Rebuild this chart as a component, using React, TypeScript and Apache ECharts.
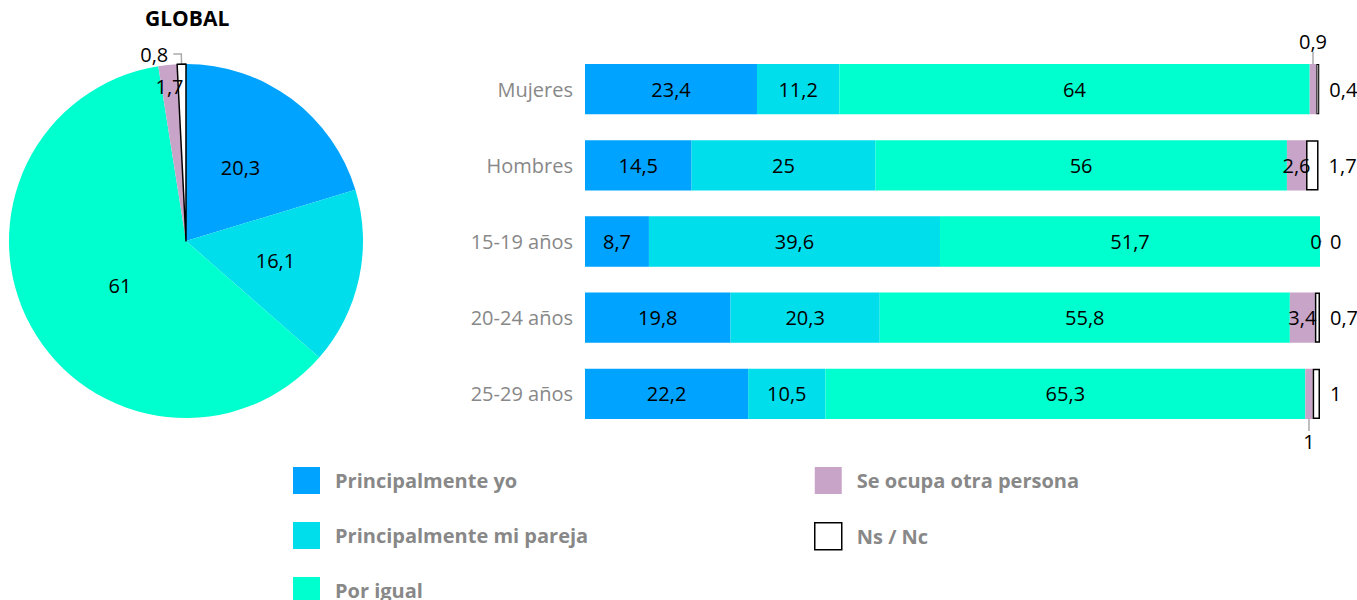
import React, { useEffect, useRef } from "react";
import * as echarts from "echarts";

const categories = ["Mujeres", "Hombres", "15-19 años", "20-24 años", "25-29 años"];
const seriesNames = ["Principalmente yo", "Principalmente mi pareja", "Por igual", "Se ocupa otra persona", "Ns / Nc"];
const yo = [23.4, 14.5, 8.7, 19.8, 22.2];
const pareja = [11.2, 25, 39.6, 20.3, 10.5];
const igual = [64, 56, 51.7, 55.8, 65.3];
const otra = [0.9, 2.6, 0, 3.4, 1];
const nsnc = [0.4, 1.7, 0, 0.7, 1];
const globalValues = [20.3, 16.1, 61, 1.7, 0.8];

const colors = ["#00A3FF", "#00DDEB", "#00FFCE", "#C8A4C8", "#FFFFFF"];
const FONT = "Open Sans";

const fmt = (p: any) => String(p.value).replace(".", ",");

export default function App() {
  const ref = useRef<HTMLDivElement>(null);
  useEffect(() => {
    document.body.style.margin = "0";
    const chart = echarts.init(ref.current!, null, { renderer: "svg" });
    const labelBase = { show: true, color: "#000", fontSize: 20, fontFamily: FONT, formatter: fmt };
    const nsStyle = { color: "#fff", borderColor: "#000", borderWidth: 1.5 };
    const barSeries: any[] = [yo, pareja, igual, otra, nsnc].map((vals, i) => {
      const s: any = {
        name: seriesNames[i],
        type: "bar",
        stack: "t",
        barCategoryGap: "34%",
        data: vals,
        itemStyle: { color: colors[i] },
        label: { ...labelBase, position: "inside" },
      };
      if (i === 4) {
        s.itemStyle = nsStyle;
        s.label = { ...labelBase, position: "right", distance: 10 };
        s.data = vals.map((v) =>
          v === 0 ? { value: v, itemStyle: { borderWidth: 0 } } : v < 0.5 ? { value: v, itemStyle: { borderWidth: 1.1 } } : v
        );
      }
      if (i === 3) {
        s.data = vals.map((v, k) => {
          if (k === 0) return { value: v, label: { position: "top", distance: 4 } };
          if (k === 4) return { value: v, label: { position: "bottom", distance: 4 } };
          return v;
        });
        s.labelLine = { show: true, lineStyle: { color: "#aaa", width: 1.5 } };
        s.labelLayout = (p: any) => {
          if (p.dataIndex === 0) return { dy: -8 };
          if (p.dataIndex === 4) return { dy: 8 };
          if (p.dataIndex === 2) return { dx: -4 };
          return {};
        };
      }
      return s;
    });
    const legendBase = {
      orient: "vertical",
      itemWidth: 27,
      itemHeight: 27,
      itemGap: 28,
      padding: 0,
      icon: "rect",
      textStyle: { fontFamily: FONT, fontSize: 20, fontWeight: "bold", color: "#888", padding: [0, 0, 0, 10] },
      selectedMode: false,
    };
    const option: any = {
      animation: false,
      title: {
        text: "GLOBAL",
        left: 145,
        top: 7,
        padding: 0,
        textStyle: { fontFamily: FONT, fontSize: 21, fontWeight: "bold", color: "#000" },
      },
      legend: [
        { ...legendBase, data: seriesNames.slice(0, 2), left: 293, top: 467 },
        { ...legendBase, data: [seriesNames[2]], left: 293, top: 577 },
        {
          ...legendBase,
          data: [
            { name: seriesNames[3], itemStyle: { color: colors[3] } },
            { name: seriesNames[4], itemStyle: nsStyle },
          ],
          left: 814,
          top: 467,
        },
      ],
      grid: { left: 585, right: 37, top: 51, bottom: 168 },
      xAxis: { type: "value", min: 0, max: 100, show: false },
      yAxis: {
        type: "category",
        data: categories,
        inverse: true,
        axisLine: { show: false },
        axisTick: { show: false },
        axisLabel: { fontFamily: FONT, fontSize: 20, color: "#888", margin: 12 },
      },
      series: [
        {
          type: "pie",
          center: [186, 241],
          radius: 177,
          startAngle: 90,
          clockwise: true,
          data: globalValues.map((v, i) => ({
            name: seriesNames[i],
            value: v,
            itemStyle: i === 4 ? nsStyle : { color: colors[i] },
            label: i === 4 ? { position: "outside", alignTo: "none" } : { position: "inside" },
            labelLine:
              i === 4
                ? { show: true, length: 10, length2: 8, lineStyle: { color: "#aaa", width: 1.5 } }
                : { show: false },
          })),
          label: { ...labelBase },
          labelLayout: (p: any) => {
            if (p.dataIndex === 3) return { dx: -7, dy: -63 };
            if (p.dataIndex === 2) return { dx: 14 };
            return {};
          },
          emphasis: { disabled: true },
        },
        ...barSeries,
      ],
    };
    chart.setOption(option);
    return () => chart.dispose();
  }, []);
  return <div ref={ref} style={{ width: 1357, height: 600 }} />;
}
